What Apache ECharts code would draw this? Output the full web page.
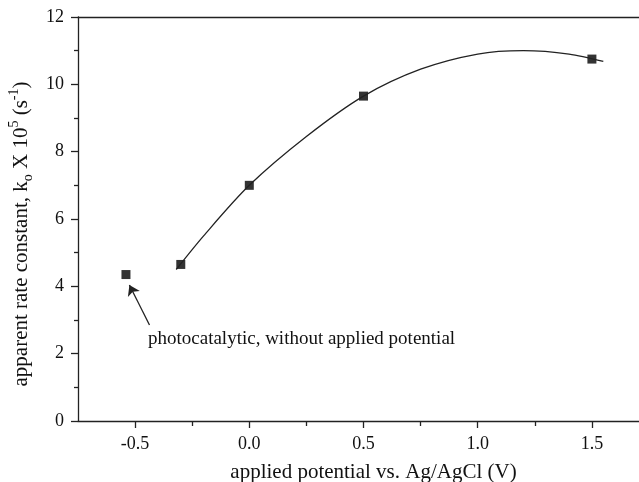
<!DOCTYPE html>
<html>
<head>
<meta charset="utf-8">
<script src="https://cdn.jsdelivr.net/npm/echarts@6/dist/echarts.min.js"></script>
<style>
  html, body { margin: 0; padding: 0; background: #fff; }
  #chart { width: 639px; height: 482px; }
</style>
</head>
<body>
<div id="chart"></div>
<script>
// measured points
const potential = [-0.54, -0.3, 0.0, 0.5, 1.5]
const rateConst = [4.35, 4.65, 7.0, 9.65, 10.75]

// fitted curve
const fitX = [-0.32, -0.2, 0.0, 0.25, 0.5, 0.75, 1.0, 1.2, 1.4, 1.55]
const fitY = [4.5, 5.5, 7.0, 8.45, 9.65, 10.45, 10.9, 11.0, 10.9, 10.68]

const xMajorTicks = [-0.5, 0.0, 0.5, 1.0, 1.5]
const xMinorTicks = [-0.25, 0.25, 0.75, 1.25]

// arrow for the annotation: tail -> head
const arrowFrom = [-0.437, 2.85]
const arrowTo = [-0.525, 4.04]
const noteText = 'photocatalytic, without applied potential'

const font = '"Liberation Serif", "Times New Roman", serif'

let chart = echarts.init(document.getElementById('chart'))
chart.setOption({
  animation: false,
  textStyle: { fontFamily: font, color: '#111' },
  grid: {
    left: 78,
    top: 17,
    bottom: 61,
    right: -10,
    outerBoundsMode: 'none'
  },
  xAxis: [
    {
      type: 'value',
      min: -0.75,
      max: 1.75,
      position: 'bottom',
      name: 'applied potential vs. Ag/AgCl (V)',
      nameLocation: 'middle',
      nameGap: 41,
      nameTextStyle: { fontFamily: font, fontSize: 21, color: '#111', padding: [0, 0, 0, 20] },
      axisLine: { onZero: false, lineStyle: { color: '#222', width: 1.3 } },
      axisTick: {
        customValues: xMajorTicks,
        length: 7,
        lineStyle: { color: '#222', width: 1.3 }
      },
      axisLabel: {
        customValues: xMajorTicks,
        fontFamily: font,
        fontSize: 18,
        color: '#111',
        margin: 14,
        formatter: v => v.toFixed(1)
      },
      splitLine: { show: false }
    },
    {
      // top border line
      type: 'value',
      min: -0.75,
      max: 1.75,
      position: 'top',
      axisLine: { show: true, onZero: false, lineStyle: { color: '#222', width: 1.3 } },
      axisTick: { show: false },
      axisLabel: { show: false },
      splitLine: { show: false }
    },
    {
      // minor ticks on the bottom
      type: 'value',
      min: -0.75,
      max: 1.75,
      position: 'bottom',
      axisLine: { show: false, onZero: false },
      axisTick: {
        show: true,
        customValues: xMinorTicks,
        length: 5,
        lineStyle: { color: '#222', width: 1.3 }
      },
      axisLabel: { show: false },
      splitLine: { show: false }
    }
  ],
  yAxis: {
    type: 'value',
    min: 0,
    max: 12,
    interval: 2,
    name: 'apparent rate constant, k{sub|o} X 10{sup|5} (s{sup|-1})',
    nameLocation: 'middle',
    nameGap: 36,
    nameTextStyle: {
      fontFamily: font,
      fontSize: 21,
      color: '#111',
      lineHeight: 28,
      padding: [0, 30, 0, 0],
      rich: {
        sub: { fontFamily: font, fontSize: 14, verticalAlign: 'bottom', color: '#111', lineHeight: 28 },
        sup: { fontFamily: font, fontSize: 14, verticalAlign: 'top', color: '#111', lineHeight: 28 }
      }
    },
    axisLine: { show: true, onZero: false, lineStyle: { color: '#222', width: 1.3 } },
    axisTick: { show: true, length: 7, lineStyle: { color: '#222', width: 1.3 } },
    minorTick: { show: true, splitNumber: 2, length: 4, lineStyle: { color: '#222', width: 1.3 } },
    axisLabel: { fontFamily: font, fontSize: 18, color: '#111', margin: 14 },
    splitLine: { show: false }
  },
  series: [
    {
      type: 'line',
      xAxisIndex: 0,
      data: fitX.map((x, i) => [x, fitY[i]]),
      smooth: 0.3,
      showSymbol: false,
      lineStyle: { color: '#222', width: 1.3 },
      markLine: {
        silent: true,
        animation: false,
        symbol: ['none', 'arrow'],
        symbolSize: 10,
        label: { show: false },
        lineStyle: { color: '#222', width: 1.3, type: 'solid' },
        data: [[{ coord: arrowFrom }, { coord: arrowTo }]]
      }
    },
    {
      type: 'scatter',
      xAxisIndex: 0,
      data: potential.map((x, i) => [x, rateConst[i]]),
      symbol: 'rect',
      symbolSize: 9,
      itemStyle: { color: '#000' }
    }
  ],
  graphic: [
    {
      type: 'text',
      left: 148,
      top: 330,
      style: {
        text: noteText,
        fontFamily: font,
        fontSize: 19,
        fill: '#111'
      }
    }
  ]
})
</script>
</body>
</html>
